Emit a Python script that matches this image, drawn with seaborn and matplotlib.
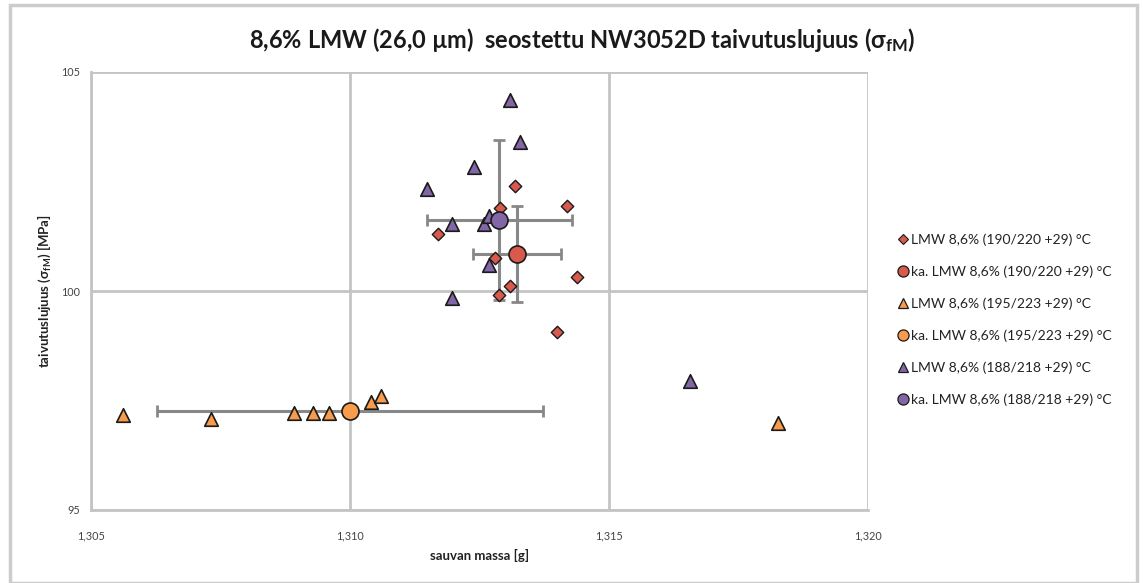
import matplotlib
matplotlib.use("Agg")
import matplotlib.pyplot as plt
from matplotlib.lines import Line2D
from matplotlib.patches import Rectangle
from matplotlib.ticker import FuncFormatter
import seaborn as sns
import pandas as pd

# Bar mass [g] and flexural strength [MPa] per processing temperature profile
mass_190 = [1.31319, 1.31418, 1.31290, 1.31170, 1.31279, 1.31309, 1.31288, 1.31438, 1.31399]
sigma_190 = [102.40, 101.95, 101.90, 101.29, 100.75, 100.12, 99.92, 100.32, 99.06]

mass_195 = [1.30562, 1.30731, 1.30891, 1.30929, 1.30960, 1.31040, 1.31060, 1.31827]
sigma_195 = [97.17, 97.07, 97.21, 97.21, 97.21, 97.47, 97.60, 96.98]

mass_188 = [1.31309, 1.31328, 1.31239, 1.31148, 1.31197, 1.31259, 1.31269, 1.31269, 1.31197, 1.31656]
sigma_188 = [104.36, 103.41, 102.82, 102.33, 101.53, 101.53, 101.71, 100.59, 99.83, 97.95]

# Averages with their spreads (x error, y error)
mean_190 = (1.31322, 100.85)
err_190 = (0.00085, 1.09)
mean_195 = (1.31000, 97.25)
err_195 = (0.00373, 0.0)
mean_188 = (1.31288, 101.62)
err_188 = (0.00140, 1.83)

labels = [
    "LMW 8,6% (190/220 +29) °C",
    "ka. LMW 8,6% (190/220 +29) °C",
    "LMW 8,6% (195/223 +29) °C",
    "ka. LMW 8,6% (195/223 +29) °C",
    "LMW 8,6% (188/218 +29) °C",
    "ka. LMW 8,6% (188/218 +29) °C",
]

RED = "#d75a4c"
ORANGE = "#f89b4b"
PURPLE = "#8366a6"
EDGE = "#1a1a1a"
GRID = "#c4c4c4"
ERR = "#888888"

sns.set_theme(style="white")
plt.rcParams["font.family"] = ["Lato", "DejaVu Sans"]

fig = plt.figure(figsize=(11.43, 5.83), dpi=100)
ax = fig.add_axes([91 / 1143, 1 - 510 / 583, (868 - 91) / 1143, (510 - 72) / 583])

# Error bars for the averages
for (mx, my), (ex, ey) in [(mean_190, err_190), (mean_195, err_195), (mean_188, err_188)]:
    ax.errorbar(mx, my, xerr=ex, yerr=ey if ey > 0 else None, fmt="none",
                ecolor=ERR, elinewidth=2.2, capsize=4, capthick=2.0, zorder=2)

df190 = pd.DataFrame({"m": mass_190, "s": sigma_190})
df195 = pd.DataFrame({"m": mass_195, "s": sigma_195})
df188 = pd.DataFrame({"m": mass_188, "s": sigma_188})

sns.scatterplot(data=df188, x="m", y="s", ax=ax, marker="^", s=95, color=PURPLE,
                edgecolor=EDGE, linewidth=1.2, zorder=3, legend=False)
sns.scatterplot(data=df195, x="m", y="s", ax=ax, marker="^", s=95, color=ORANGE,
                edgecolor=EDGE, linewidth=1.2, zorder=3, legend=False)
sns.scatterplot(data=df190, x="m", y="s", ax=ax, marker="D", s=40, color=RED,
                edgecolor=EDGE, linewidth=1.0, zorder=4, legend=False)

means = pd.DataFrame({
    "m": [mean_190[0], mean_195[0], mean_188[0]],
    "s": [mean_190[1], mean_195[1], mean_188[1]],
    "c": [RED, ORANGE, PURPLE],
})
for _, r in means.iterrows():
    sns.scatterplot(x=[r["m"]], y=[r["s"]], ax=ax, marker="o", s=150, color=r["c"],
                    edgecolor=EDGE, linewidth=1.2, zorder=5, legend=False)

ax.set_xlim(1.305, 1.320)
ax.set_ylim(95, 105)
ax.set_xticks([1.305, 1.310, 1.315, 1.320])
ax.set_yticks([95, 100, 105])
ax.xaxis.set_major_formatter(FuncFormatter(lambda v, p: f"{v:.3f}".replace(".", ",")))
ax.yaxis.set_major_formatter(FuncFormatter(lambda v, p: f"{v:.0f}"))
ax.grid(True, color=GRID, linewidth=2.0)
ax.set_axisbelow(True)
for side in ["top", "right"]:
    ax.spines[side].set_visible(False)
for side in ["left", "bottom"]:
    ax.spines[side].set_color(GRID)
    ax.spines[side].set_linewidth(2.0)
ax.tick_params(axis="both", which="major", length=5, width=1.5, color=GRID,
               labelsize=7.8, labelcolor="#444444", direction="out")
ax.tick_params(axis="x", pad=10)
ax.tick_params(axis="y", pad=3)

ax.set_xlabel("sauvan massa [g]", fontsize=9.5, fontweight="bold", color="#222222", labelpad=5)
ax.set_ylabel(r"taivutuslujuus ($\mathregular{\sigma_{fM}}$) [MPa]", fontsize=9.5,
              fontweight="bold", color="#222222", labelpad=6)

fig.text(582 / 1143, 1 - 40 / 583,
         r"8,6% LMW (26,0 µm)  seostettu NW3052D taivutuslujuus ($\mathregular{\sigma_{fM}}$)",
         ha="center", va="center", fontsize=17, fontweight="bold", color="#1a1a1a")

handles = [
    Line2D([], [], linestyle="none", marker="D", markersize=5, markerfacecolor=RED, markeredgecolor=EDGE, markeredgewidth=0.8),
    Line2D([], [], linestyle="none", marker="o", markersize=8, markerfacecolor=RED, markeredgecolor=EDGE, markeredgewidth=0.9),
    Line2D([], [], linestyle="none", marker="^", markersize=7, markerfacecolor=ORANGE, markeredgecolor=EDGE, markeredgewidth=0.9),
    Line2D([], [], linestyle="none", marker="o", markersize=8, markerfacecolor=ORANGE, markeredgecolor=EDGE, markeredgewidth=0.9),
    Line2D([], [], linestyle="none", marker="^", markersize=7, markerfacecolor=PURPLE, markeredgecolor=EDGE, markeredgewidth=0.9),
    Line2D([], [], linestyle="none", marker="o", markersize=8, markerfacecolor=PURPLE, markeredgecolor=EDGE, markeredgewidth=0.9),
]
fig.legend(handles, labels, loc="center left", bbox_to_anchor=(893 / 1143, 1 - 320 / 583),
           frameon=False, fontsize=10, handlelength=0.6, handletextpad=0.3,
           labelspacing=1.4, labelcolor="#222222", borderaxespad=0)

# Chart area frame
fig.patches.append(Rectangle((10 / 1143, 0), (1137 - 10) / 1143, 1 - 5 / 583,
                             transform=fig.transFigure, fill=False,
                             edgecolor="#cccccc", linewidth=2.5))

fig.savefig("out.png", dpi=100)
